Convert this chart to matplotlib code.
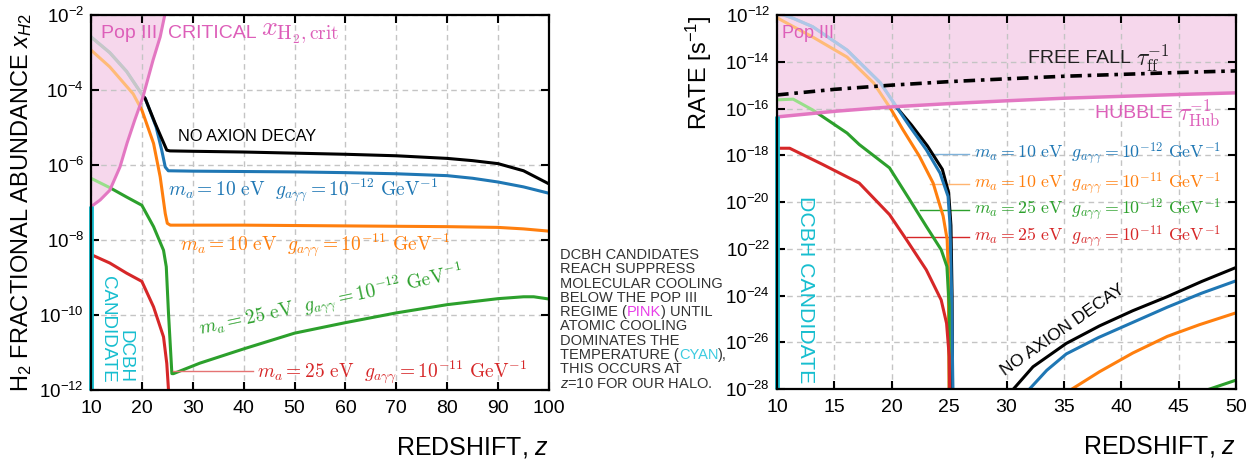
import numpy as np
import matplotlib
matplotlib.use('Agg')
import matplotlib.pyplot as plt
from matplotlib.ticker import FixedLocator, FuncFormatter
from matplotlib.path import Path

plt.rcParams['font.family'] = ['Liberation Sans', 'DejaVu Sans']
plt.rcParams['mathtext.fontset'] = 'custom'
plt.rcParams['mathtext.rm'] = 'Liberation Sans'
plt.rcParams['mathtext.it'] = 'Liberation Sans:italic'
plt.rcParams['mathtext.bf'] = 'Liberation Sans:bold'

# ===================== DATA (log10 values) =====================
# ---- Left panel: H2 fractional abundance vs redshift ----
crit_z = [10, 10.4, 11.8, 13.7, 15.7, 17.1, 18.6, 20.2, 22.2, 23.6, 24.5]
crit_log = [-7.12, -7.07, -6.93, -6.67, -6.05, -5.41, -4.8, -4.19, -3.2, -2.58, -2.0]

noax_z = [10, 13.7, 17, 20.2, 20.65, 22.6, 24.9, 25.5, 30, 40, 50, 60, 70, 80, 85, 90, 95, 100]
noax_log = [-2.58, -3.0, -3.5, -4.15, -4.22, -4.88, -5.6, -5.62, -5.63, -5.65, -5.68, -5.71, -5.75, -5.82, -5.88, -5.96, -6.15, -6.5]

b10_12_z = [10, 13.7, 17, 20.2, 20.65, 22.8, 23.9, 24.6, 25.2, 30, 40, 50, 60, 70, 80, 85, 90, 95, 100]
b10_12_log = [-2.58, -3.0, -3.5, -4.15, -4.22, -4.98, -5.6, -6.05, -6.15, -6.16, -6.17, -6.18, -6.2, -6.23, -6.28, -6.35, -6.45, -6.58, -6.75]

o10_11_z = [10, 13.7, 18.3, 20, 22.3, 23.6, 24.6, 25.0, 25.6, 30, 40, 50, 60, 70, 80, 90, 95, 100]
o10_11_log = [-2.93, -3.38, -4.1, -4.53, -5.42, -6.31, -7.29, -7.55, -7.6, -7.6, -7.6, -7.61, -7.62, -7.63, -7.64, -7.66, -7.7, -7.76]

g25_12_z = [10, 13.7, 17, 20, 22.3, 24.26, 24.8, 25.24, 25.9, 26.2, 31.4, 40, 50, 60, 70, 80, 90, 95, 97, 100]
g25_12_log = [-6.35, -6.6, -6.85, -7.07, -7.64, -8.27, -8.71, -9.96, -11.56, -11.56, -11.28, -10.9, -10.48, -10.2, -9.94, -9.72, -9.56, -9.51, -9.51, -9.57]

r25_11_z = [10.6, 13.7, 17, 20, 22.3, 24.26, 24.9, 25.24, 25.3]
r25_11_log = [-8.42, -8.61, -8.88, -9.1, -9.78, -10.58, -11.29, -12.0, -12.4]

dcbh_left_log = [-7.1, -12.0]

# ---- Right panel: rates vs redshift ----
hub_z = [10, 15, 20, 25, 30, 35, 40, 45, 50]
hub_log = [-16.36, -16.12, -15.93, -15.79, -15.67, -15.56, -15.48, -15.40, -15.33]
ff_z = [10, 15, 20, 25, 30, 35, 40, 45, 50]
ff_log = [-15.42, -15.18, -15.0, -14.85, -14.73, -14.62, -14.54, -14.46, -14.39]

rnoax_z = [10, 11.4, 13.1, 16.1, 19, 20.5, 21.7, 23.1, 24.4, 24.95, 25.15, 25.25, 25.3, np.nan,
           30.6, 32.3, 35.2, 38.1, 41, 44, 47, 50]
rnoax_log = [-11.9, -12.14, -12.5, -13.5, -14.9, -16.0, -16.7, -17.6, -18.6, -19.6, -21.0, -24.0, -29.0, np.nan,
             -28.0, -27.05, -26.05, -25.3, -24.65, -24.05, -23.4, -22.8]

rb_z = [10, 11.4, 13.1, 16.1, 19, 20.5, 21.55, 23.0, 24.2, 24.9, 25.06, 25.2, 25.35, np.nan,
        32.0, 33.5, 35.2, 38, 41, 44, 47, 50]
rb_log = [-11.9, -12.14, -12.5, -13.5, -14.9, -16.0, -16.76, -17.76, -18.76, -19.76, -20.9, -23.76, -29.0, np.nan,
          -28.0, -27.2, -26.5, -25.8, -25.15, -24.5, -23.9, -23.37]

ro_z = [10, 10.3, 13.1, 16.1, 18.4, 19.94, 20.96, 22.4, 23.6, 24.47, 24.82, 24.92, 25.0, np.nan,
        35.7, 38.1, 41, 44, 46.8, 50]
ro_log = [-12.1, -12.2, -12.94, -13.8, -14.9, -16.04, -16.9, -18.04, -19.19, -20.6, -21.6, -23.0, -29.0, np.nan,
          -28.0, -27.26, -26.46, -25.75, -25.25, -24.74]

rg_z = [10, 11.4, 13.1, 16.1, 17.16, 19.8, 21.55, 23.0, 24.3, 24.8, 25.0, 25.02, np.nan, 47.7, 50]
rg_log = [-15.63, -15.6, -16.06, -17.05, -17.54, -18.54, -19.9, -21.04, -22.04, -22.76, -24.47, -29.0, np.nan, -28.0, -27.62]

rr_z = [10.3, 11.1, 14, 17.16, 19.8, 21.26, 23.0, 24.3, 24.77, 25.0, 25.06]
rr_log = [-17.7, -17.7, -18.4, -19.19, -20.54, -21.6, -22.9, -24.19, -25.19, -26.6, -29.0]

dcbh_right_log = [-16.3, -28.0]

# label anchors (data coords)
lab_left = {
    'b': (25.1, -6.67), 'o': (27.5, -8.13), 'g': (57.2, -9.62), 'r': (42.6, -11.52),
}
red_leader_z = [26.1, 41.8]
red_leader_log = [-11.49, -11.49]

right_leader_z0 = {'b': 23.16, 'o': 23.3, 'g': 22.45, 'r': 21.3}
right_leader_log = {'b': -17.93, 'o': -19.21, 'g': -20.33, 'r': -21.49}
right_leader_z1 = 26.7
right_text_z = 27.2

# ===================== STYLE =====================
C_BLUE, C_ORANGE, C_GREEN, C_RED = '#1f77b4', '#ff7f0e', '#2ca02c', '#d62728'
L_BLUE, L_ORANGE, L_GREEN, L_BLACK = '#aec7e8', '#ffbb78', '#98df8a', '#c7c7c7'
C_PINK = '#e377c2'
C_PINKTXT = '#dd5fb9'
C_PINKFILL = '#f6d7ec'
C_CYAN = '#17becf'
LW = 2.2

lab_b = r'$m_a = 10\ \mathrm{eV}\ \ g_{a\gamma\gamma} = 10^{-12}\ \mathrm{GeV}^{-1}$'
lab_o = r'$m_a = 10\ \mathrm{eV}\ \ g_{a\gamma\gamma} = 10^{-11}\ \mathrm{GeV}^{-1}$'
lab_g = r'$m_a = 25\ \mathrm{eV}\ \ g_{a\gamma\gamma} = 10^{-12}\ \mathrm{GeV}^{-1}$'
lab_r = r'$m_a = 25\ \mathrm{eV}\ \ g_{a\gamma\gamma} = 10^{-11}\ \mathrm{GeV}^{-1}$'

def P(a):
    return 10.0 ** np.asarray(a, dtype=float)

fig = plt.figure(figsize=(12.58, 4.59), dpi=100)
ax1 = fig.add_axes([0.0723, 0.150, 0.3641, 0.817])
ax2 = fig.add_axes([0.6177, 0.1525, 0.3649, 0.8148])

def style_axes(ax, xticks, ylogs, xlim, ylim):
    ax.set_yscale('log')
    ax.set_xlim(*xlim)
    ax.set_ylim(*ylim)
    ax.xaxis.set_major_locator(FixedLocator(xticks))
    ax.yaxis.set_major_locator(FixedLocator([10.0 ** k for k in ylogs]))
    ax.yaxis.set_minor_locator(FixedLocator([]))
    ax.yaxis.set_major_formatter(FuncFormatter(lambda v, p: r'$\mathdefault{10^{%d}}$' % int(round(np.log10(v)))))
    ax.tick_params(axis='both', which='major', direction='in', top=True, right=True,
                   length=6, width=1.5, colors='black')
    ax.tick_params(axis='x', labelsize=14, pad=7)
    ax.tick_params(axis='y', labelsize=13.5, pad=5)
    for s in ax.spines.values():
        s.set_linewidth(1.6)
    ax.set_axisbelow(True)
    ax.grid(True, which='major', color='#c4c4c4', linestyle=(0, (4, 3)), linewidth=1.0)

style_axes(ax1, [10, 20, 30, 40, 50, 60, 70, 80, 90, 100], [-12, -10, -8, -6, -4, -2], (10, 100), (1e-12, 1e-2))
style_axes(ax2, [10, 15, 20, 25, 30, 35, 40, 45, 50], [-28, -26, -24, -22, -20, -18, -16, -14, -12], (10, 50), (1e-28, 1e-12))

def complement_path(bz, bv):
    # region below/right of a boundary curve (outside the Pop III zone), in data coords
    verts = [(z, v) for z, v in zip(bz, bv)]
    verts += [(1000.0, bv[-1]), (1000.0, 1e-60), (-1000.0, 1e-60), (-1000.0, bv[0]), (bz[0], bv[0])]
    return Path(verts, closed=True)

# ---------------- LEFT PANEL ----------------
fill1 = ax1.fill_between(crit_z, P(crit_log), 1e-2, color=C_PINKFILL, lw=0, zorder=0.3)
inside1 = (fill1.get_paths()[0], ax1.transData)
outside1 = (complement_path(crit_z, list(P(crit_log))), ax1.transData)

series_left = [
    (b10_12_z, b10_12_log, C_BLUE, L_BLUE),
    (noax_z, noax_log, 'black', L_BLACK),
    (o10_11_z, o10_11_log, C_ORANGE, L_ORANGE),
    (g25_12_z, g25_12_log, C_GREEN, L_GREEN),
    (r25_11_z, r25_11_log, C_RED, None),
]
for z, lg, c, lc in series_left:
    ln, = ax1.plot(z, P(lg), color=c, lw=LW, zorder=2)
    if lc is not None:
        ln.set_clip_path(*outside1)
        ln2, = ax1.plot(z, P(lg), color=lc, lw=LW, zorder=2)
        ln2.set_clip_path(*inside1)
ax1.plot(crit_z, P(crit_log), color=C_PINK, lw=LW, zorder=2.2)
ax1.plot([10, 10], P(dcbh_left_log), color=C_CYAN, lw=3.5, zorder=2.3, clip_on=False, solid_capstyle='butt')

t = ax1.text(12.0, 10 ** -2.48, 'Pop III  CRITICAL ', color=C_PINKTXT, fontsize=14, va='center', ha='left')
ax1.annotate(r'$x_{\rm H_2,crit}$', xy=(1, 0.5), xycoords=t, color=C_PINKTXT, fontsize=20,
             va='center', ha='left', math_fontfamily='cm', annotation_clip=False)
ax1.text(27.1, 10 ** -5.23, 'NO AXION DECAY', fontsize=11.7, va='center', ha='left')
ax1.text(lab_left['b'][0], 10 ** lab_left['b'][1], lab_b, color=C_BLUE, fontsize=14, va='center', ha='left', math_fontfamily='cm')
ax1.text(lab_left['o'][0], 10 ** lab_left['o'][1], lab_o, color=C_ORANGE, fontsize=14, va='center', ha='left', math_fontfamily='cm')
ax1.text(lab_left['g'][0], 10 ** lab_left['g'][1], lab_g, color=C_GREEN, fontsize=14, va='center', ha='center',
         rotation=12.2, rotation_mode='anchor', math_fontfamily='cm')
ax1.text(lab_left['r'][0], 10 ** lab_left['r'][1], lab_r, color=C_RED, fontsize=14, va='center', ha='left', math_fontfamily='cm')
ax1.plot(red_leader_z, P(red_leader_log), color='#e57373', lw=1.0, zorder=2)
ax1.text(14.9, 10 ** -11.8, 'DCBH\nCANDIDATE', color=C_CYAN, fontsize=13.5, rotation=-90,
         ha='center', va='bottom', multialignment='right', linespacing=1.05)

ax1.set_ylabel(r'H$_2$ FRACTIONAL ABUNDANCE $x_{H2}$', fontsize=17)
ax1.yaxis.set_label_coords(-0.124, 0.5)
ax1.set_xlabel(r'REDSHIFT, $z$', fontsize=18, loc='right')
ax1.xaxis.label.set_va('center')
ax1.xaxis.set_label_coords(1.0, -0.152)

# ---------------- RIGHT PANEL ----------------
fill2 = ax2.fill_between(hub_z, P(hub_log), 1e-12, color=C_PINKFILL, lw=0, zorder=0.3)
inside2 = (fill2.get_paths()[0], ax2.transData)
outside2 = (complement_path(hub_z, list(P(hub_log))), ax2.transData)

series_right = [
    (rnoax_z, rnoax_log, 'black', L_BLACK),
    (rb_z, rb_log, C_BLUE, L_BLUE),
    (ro_z, ro_log, C_ORANGE, L_ORANGE),
    (rg_z, rg_log, C_GREEN, L_GREEN),
    (rr_z, rr_log, C_RED, None),
]
for z, lg, c, lc in series_right:
    ln, = ax2.plot(z, P(lg), color=c, lw=LW, zorder=2)
    if lc is not None:
        ln.set_clip_path(*outside2)
        ln2, = ax2.plot(z, P(lg), color=lc, lw=LW, zorder=2)
        ln2.set_clip_path(*inside2)
ax2.plot(hub_z, P(hub_log), color=C_PINK, lw=2.5, zorder=2.2)
ax2.plot(ff_z, P(ff_log), color='black', lw=2.6, linestyle=(0, (3.2, 1.6, 1.0, 1.6)), zorder=2.2)
ax2.plot([10, 10], P(dcbh_right_log), color=C_CYAN, lw=3.5, zorder=2.3, clip_on=False, solid_capstyle='butt')

for key, col, lead_col, lab in [('b', C_BLUE, '#7fb2da', lab_b), ('o', C_ORANGE, '#ffb470', lab_o),
                                ('g', C_GREEN, C_GREEN, lab_g), ('r', C_RED, C_RED, lab_r)]:
    y = 10 ** right_leader_log[key]
    ax2.plot([right_leader_z0[key], right_leader_z1], [y, y], color=lead_col, lw=1.0, zorder=1.9)
    ax2.text(right_text_z, y, lab, color=col, fontsize=12.8, va='center', ha='left', math_fontfamily='cm')

ax2.text(10.4, 10 ** -12.77, 'Pop III', color=C_PINKTXT, fontsize=13, va='center', ha='left')
t = ax2.text(31.9, 10 ** -13.84, 'FREE FALL ', color='#222222', fontsize=14, va='center', ha='left')
ax2.annotate(r'$\tau_{\rm ff}^{-1}$', xy=(1, 0.5), xycoords=t, color='#222222', fontsize=17,
             va='center', ha='left', math_fontfamily='cm', annotation_clip=False)
t = ax2.text(37.7, 10 ** -16.2, 'HUBBLE ', color=C_PINKTXT, fontsize=14, va='center', ha='left')
ax2.annotate(r'$\tau_{\rm Hub}^{-1}$', xy=(1, 0.5), xycoords=t, color=C_PINKTXT, fontsize=17,
             va='center', ha='left', math_fontfamily='cm', annotation_clip=False)
ax2.text(34.9, 10 ** -25.46, 'NO AXION DECAY', fontsize=12.5, rotation=35, rotation_mode='anchor',
         ha='center', va='center')
ax2.text(12.44, 10 ** -27.75, 'DCBH CANDIDATE', color=C_CYAN, fontsize=15.3, rotation=-90,
         ha='center', va='bottom')

ax2.set_ylabel(r'RATE [s$^{-1}$]', fontsize=17, loc='top')
ax2.yaxis.set_label_coords(-0.137, 1.0)
ax2.set_xlabel(r'REDSHIFT, $z$', fontsize=18, loc='right')
ax2.xaxis.label.set_va('center')
ax2.xaxis.set_label_coords(1.0, -0.155)

# ---------------- MIDDLE NOTE ----------------
note_lines = [
    [('DCBH CANDIDATES', '#333333')],
    [('REACH SUPPRESS', '#333333')],
    [('MOLECULAR COOLING', '#333333')],
    [('BELOW THE POP III', '#333333')],
    [('REGIME (', '#333333'), ('PINK', '#e83de8'), (') UNTIL', '#333333')],
    [('ATOMIC COOLING', '#333333')],
    [('DOMINATES THE', '#333333')],
    [('TEMPERATURE (', '#333333'), ('CYAN', '#3ccbe0'), ('),', '#333333')],
    [('THIS OCCURS AT', '#333333')],
    [(r'$z$=10 FOR OUR HALO.', '#333333')],
]
x0_px, y0_px, dy_px = 560, 255, 14.3
W, H = 1258, 459
for i, parts in enumerate(note_lines):
    yfrac = 1 - (y0_px + dy_px * i) / H
    prev = fig.text(x0_px / W, yfrac, parts[0][0], color=parts[0][1], fontsize=10.5, va='center', ha='left')
    for txt, col in parts[1:]:
        prev = ax1.annotate(txt, xy=(1, 0.5), xycoords=prev, color=col, fontsize=10.5,
                            va='center', ha='left', annotation_clip=False)

fig.savefig('out.png', dpi=100)
